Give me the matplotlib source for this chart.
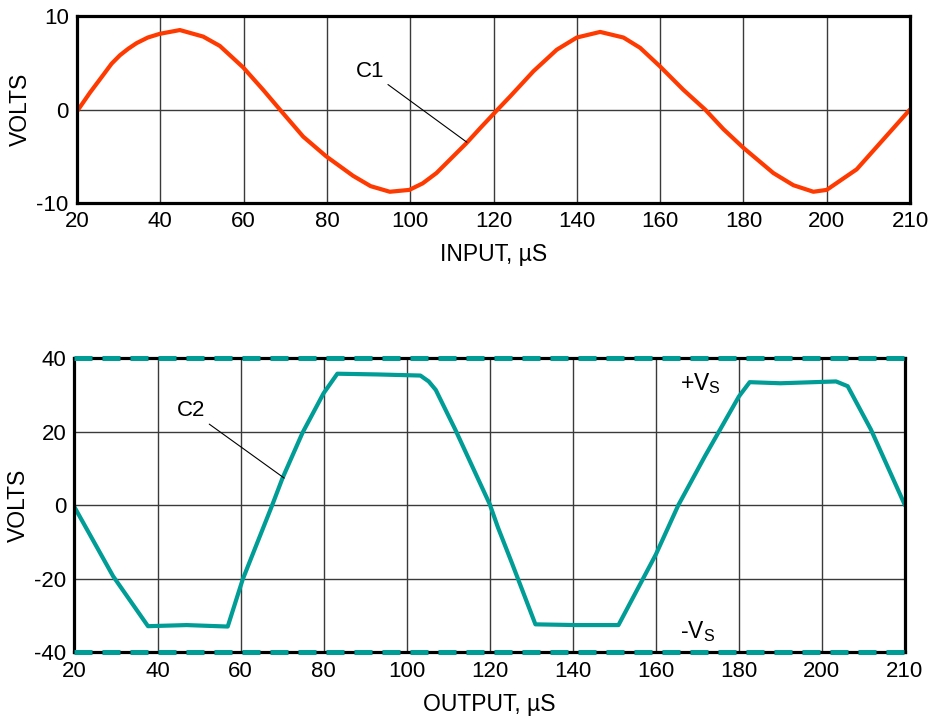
import matplotlib.pyplot as plt
import numpy as np

plt.rcParams['font.family'] = ['Liberation Sans', 'DejaVu Sans']
plt.rcParams['axes.unicode_minus'] = False

# tick values on the time axis (last step is only 10 uS but same width)
tick_us = [20, 40, 60, 80, 100, 120, 140, 160, 180, 200, 210]

# input waveform C1
t_in = [20, 23.1, 26.3, 28.3, 30.3, 32.3, 34.3, 37, 39.9, 44.7, 50.3, 54.3,
        59.9, 64.7, 68.7, 74.3, 79.8, 86.3, 90.5, 95.1, 99.8, 103, 106.3,
        113.5, 117, 121, 124.0, 129.6, 135.2, 140, 145.6, 151.2, 155.2, 160,
        165.6, 170.8, 175.2, 180, 187.2, 192, 196.8, 200, 203.6, 206.8, 210]
v_in = [-0.2, 1.8, 3.7, 4.9, 5.8, 6.5, 7.1, 7.7, 8.1, 8.5, 7.8, 6.8,
        4.5, 2.1, 0.0, -2.9, -5.0, -7.1, -8.2, -8.8, -8.6, -7.9, -6.8,
        -3.6, -1.9, 0.0, 1.4, 4.1, 6.4, 7.7, 8.3, 7.7, 6.6, 4.6,
        2.1, 0.0, -2.1, -4.1, -6.8, -8.1, -8.8, -8.6, -6.4, -3.2, 0.0]

# output waveform C2
t_out = [20, 29.3, 37.7, 47, 56.9, 60.5, 67.6, 70.1, 74.9, 80, 83.3, 93, 103.3,
         105.3, 107, 111.7, 120, 122, 125.3, 131, 141, 151, 160, 165.4, 171.8,
         180, 182.6, 190, 201.7, 203.1, 205.9, 210]
v_out = [-0.5, -19.3, -32.9, -32.6, -33.0, -20.2, 0.0, 7.4, 19.7, 30.5, 35.8,
         35.6, 35.3, 33.7, 31.4, 20.6, 0.3, -6.1, -15.6, -32.4, -32.6, -32.6,
         -13.4, 0.0, 13.3, 29.6, 33.5, 33.2, 33.7, 32.4, 20.6, 0.0]

vs_level = 40

red = '#FF3A00'
teal = '#009C96'
idx = np.arange(len(tick_us))


def fwd(t):
    return np.interp(t, tick_us, idx)


def inv(p):
    return np.interp(p, idx, tick_us)


fig = plt.figure(figsize=(9.3, 7.19), dpi=100)
ax1 = fig.add_axes([0.0828, 0.7177, 0.8957, 0.26])
ax2 = fig.add_axes([0.0801, 0.0928, 0.8930, 0.4089])

for ax in (ax1, ax2):
    ax.set_xscale('function', functions=(fwd, inv))
    ax.set_xlim(20, 210)
    ax.set_xticks(tick_us)
    ax.set_xticklabels([str(t) for t in tick_us])
    ax.grid(True, color='#3a3a3a', lw=1.0)
    ax.set_axisbelow(True)
    ax.tick_params(length=0, labelsize=16, pad=6)
    for s in ax.spines.values():
        s.set_linewidth(2.3)
    ax.set_ylabel('VOLTS', fontsize=16.5, labelpad=3)

# top: input
ax1.plot(t_in, v_in, color=red, lw=3.0, solid_capstyle='round',
         solid_joinstyle='round')
ax1.set_ylim(-10, 10)
ax1.set_yticks([-10, 0, 10])
ax1.set_xlabel('INPUT, µS', fontsize=16.5, labelpad=8)
ax1.annotate('C1', xy=(113.6, -3.5), xytext=(90.3, 4.1), fontsize=16,
             ha='center', va='center',
             arrowprops=dict(arrowstyle='-', lw=0.8, color='black',
                             relpos=(1, 0), shrinkA=1, shrinkB=0))

# bottom: output
ax2.plot(t_out, v_out, color=teal, lw=3.0, solid_capstyle='round',
         solid_joinstyle='round')
ax2.axhline(vs_level, color=teal, lw=3.6, dashes=(3.6, 2.0), clip_on=False, zorder=5)
ax2.axhline(-vs_level, color=teal, lw=3.6, dashes=(3.6, 2.0), clip_on=False, zorder=5)
ax2.set_ylim(-40, 40)
ax2.set_yticks([-40, -20, 0, 20, 40])
ax2.set_xlabel('OUTPUT, µS', fontsize=16.5, labelpad=8)
ax2.annotate('C2', xy=(70.5, 7.4), xytext=(48.1, 25.7), fontsize=16,
             ha='center', va='center',
             arrowprops=dict(arrowstyle='-', lw=0.8, color='black',
                             relpos=(1, 0), shrinkA=1, shrinkB=0))
ax2.text(165.8, 33.0, '+V$_\\mathregular{S}$', fontsize=16.5, ha='left', va='center')
ax2.text(165.8, -34.4, '-V$_\\mathregular{S}$', fontsize=16.5, ha='left', va='center')

fig.savefig('out.png', dpi=100)
